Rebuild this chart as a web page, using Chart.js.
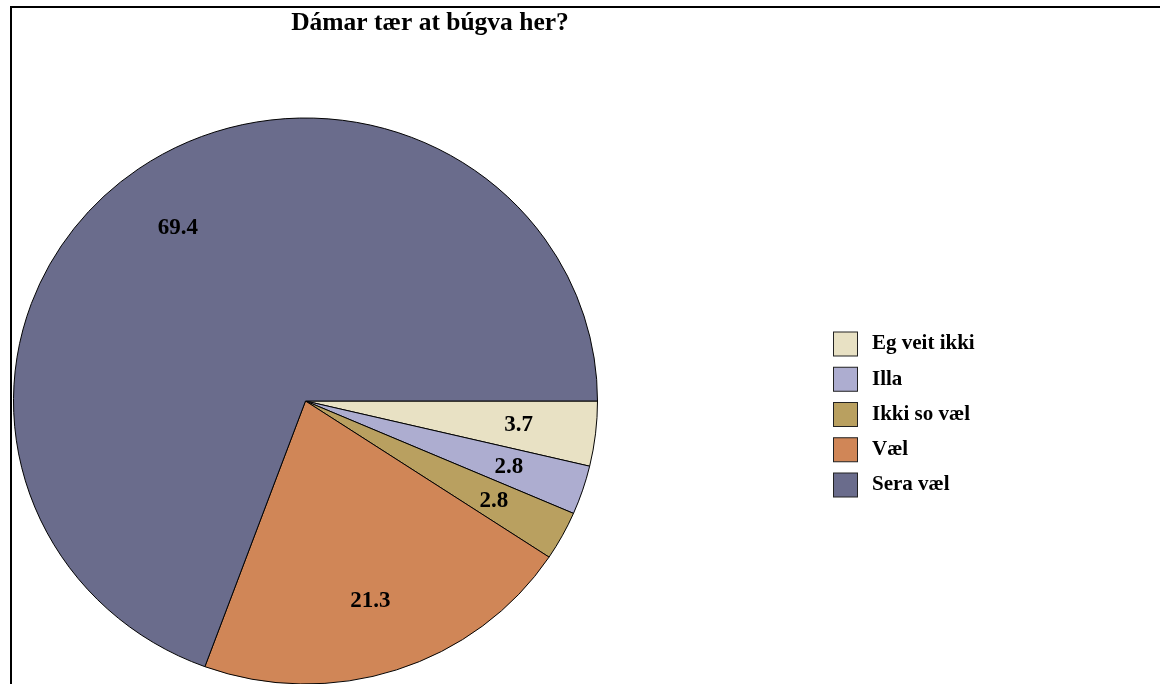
<!DOCTYPE html>
<html>
<head>
<meta charset="utf-8">
<script src="https://cdn.jsdelivr.net/npm/chart.js@4"></script>
<style>
    body { margin: 0; background: #fff; }
    #wrap { position: relative; width: 1160px; height: 684px; overflow: hidden; }
    #chart { position: absolute; left: 0; top: 0; }
    #frame { position: absolute; left: 10px; top: 6px; right: -10px; bottom: -10px;
             border-top: 2px solid #000; border-left: 2px solid #000; pointer-events: none; }
</style>
</head>
<body>
<div id="wrap">
    <canvas id="chart" width="1160" height="720"></canvas>
    <div id="frame"></div>
</div>
<script>
const chartTitle = 'Dámar tær at búgva her?';
const categories = ['Eg veit ikki', 'Illa', 'Ikki so væl', 'Væl', 'Sera væl'];
const shares = [3.7, 2.8, 2.8, 21.3, 69.4];
const colours = ['#e8e1c4', '#adadd0', '#b9a060', '#d08657', '#6a6c8c'];

const FONT = '"Liberation Serif", "Times New Roman", serif';
// the original pie is a little flatter than it is wide
const squash = 283 / 292;

const flattenPie = {
    id: 'flattenPie',
    beforeDatasetsDraw(chart) {
        const ctx = chart.ctx;
        const cy = (chart.chartArea.top + chart.chartArea.bottom) / 2;
        ctx.save();
        ctx.translate(0, cy);
        ctx.scale(1, squash);
        ctx.translate(0, -cy);
    },
    afterDatasetsDraw(chart) {
        const ctx = chart.ctx;
        ctx.restore();

        // value labels inside the slices
        const meta = chart.getDatasetMeta(0);
        ctx.save();
        ctx.font = 'bold 23px ' + FONT;
        ctx.fillStyle = '#000';
        ctx.textAlign = 'center';
        ctx.textBaseline = 'middle';
        meta.data.forEach((arc, i) => {
            const p = arc.getProps(['x', 'y', 'startAngle', 'endAngle', 'outerRadius'], true);
            const mid = (p.startAngle + p.endAngle) / 2;
            const r = p.outerRadius * 0.745;
            ctx.fillText(shares[i].toFixed(1), p.x + Math.cos(mid) * r - 3, p.y + Math.sin(mid) * r * squash);
        });
        ctx.restore();
    }
};

const titleAndLegend = {
    id: 'titleAndLegend',
    afterDraw(chart) {
        const ctx = chart.ctx;
        ctx.save();
        ctx.fillStyle = '#000';
        ctx.font = 'bold 25.5px ' + FONT;
        ctx.textAlign = 'center';
        ctx.textBaseline = 'alphabetic';
        ctx.fillText(chartTitle, 430, 30);

        ctx.font = 'bold 21px ' + FONT;
        ctx.textAlign = 'left';
        ctx.textBaseline = 'middle';
        categories.forEach((name, i) => {
            const y = 332 + i * 35.25;
            ctx.fillStyle = colours[i];
            ctx.fillRect(833.5, y, 24, 24);
            ctx.strokeStyle = '#222';
            ctx.lineWidth = 1;
            ctx.strokeRect(833.5, y, 24, 24);
            ctx.fillStyle = '#000';
            ctx.fillText(name, 872, y + 12);
        });
        ctx.restore();
    }
};

new Chart(document.getElementById('chart'), {
    type: 'pie',
    data: {
        labels: categories,
        datasets: [{
            data: shares,
            backgroundColor: colours,
            borderColor: '#000',
            borderWidth: 1,
            radius: 292
        }]
    },
    options: {
        responsive: false,
        animation: false,
        rotation: 90,
        layout: {
            padding: { left: 0, top: 82, right: 549, bottom: 0 }
        },
        plugins: {
            legend: { display: false },
            tooltip: { enabled: false },
            title: { display: false }
        }
    },
    plugins: [flattenPie, titleAndLegend]
});
</script>
</body>
</html>
